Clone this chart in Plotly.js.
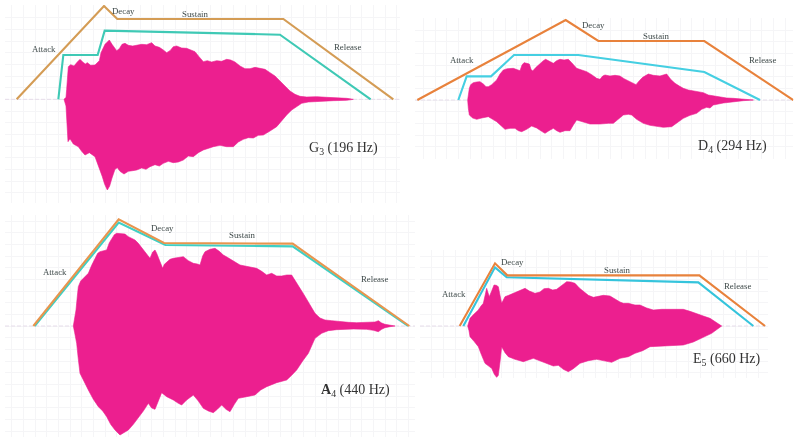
<!DOCTYPE html>
<html><head><meta charset="utf-8">
<script src="https://cdn.plot.ly/plotly-3.0.1.min.js"></script>
<style>html,body{margin:0;padding:0;background:#fff}#c{width:800px;height:443px;filter:blur(0.45px)}</style>
</head><body><div id="c"></div>
<script>
// Time runs along x, amplitude along y (arbitrary units).
const labelNames = ['Attack','Decay','Sustain','Release'];

const g3UpperT = [192,198,200,203,205,212,222,232,240,248,256,262,272,285,293,298,303,309,315,322,328,336,343,350,358,366,375,385,398,410,425,440,455,465,478,490,500,510,520,530,545,560,572,585,597,610,622,635,650,665,680,692,705,720,735,750,765,780,795,810,825,840,855,870,885,900,920,950,980,1010,1040,1060];
const g3Upper  = [0,6,30,70,98,104,100,112,120,112,106,110,102,103,112,116,140,152,165,172,178,165,155,146,152,165,168,162,160,163,165,164,170,160,156,148,140,146,158,160,154,153,148,143,128,113,116,112,116,114,120,118,112,100,92,92,96,92,90,80,70,55,40,25,15,9,7,8,6,5,3,0];
const g3LowerT = [192,198,201,204,210,220,235,245,255,268,285,293,300,307,314,322,329,336,345,352,360,372,385,398,410,425,438,450,465,478,490,505,520,535,550,565,580,595,610,625,640,660,680,700,715,730,745,760,775,790,810,830,845,860,875,890,905,925,960,1000,1040,1060];
const g3Lower  = [0,-20,-70,-127,-118,-134,-142,-156,-167,-160,-172,-190,-212,-232,-255,-272,-260,-236,-210,-205,-216,-224,-216,-214,-212,-206,-210,-202,-196,-200,-192,-186,-190,-188,-182,-170,-172,-160,-152,-146,-142,-138,-142,-142,-128,-120,-115,-116,-108,-107,-95,-82,-65,-47,-32,-22,-12,-8,-6,-4,-3,0];
const g3IdealT = [50,312,352,850,1180];
const g3Ideal  = [0,280,241,241,0];
const g3FitT   = [175,190,293,314,840,1112];
const g3Fit    = [0,133,133,206,194,0];
const g3LabelT = [132,370,585,1042];
const g3LabelA = [151,265,255,157];

const d4UpperT = [203,205,208,212,220,230,240,250,258,265,275,290,300,310,322,340,352,360,366,372,380,388,393,398,408,420,430,437,447,460,470,480,492,505,515,530,545,560,575,590,600,608,615,630,645,660,672,685,697,708,718,728,745,760,780,790,800,812,825,838,850,865,880,895,910,925,940,960,980,1000,1030,1060];
const d4Upper  = [0,20,35,46,52,54,55,48,40,40,46,60,78,90,94,95,90,88,105,112,110,108,92,87,98,110,118,122,116,110,118,122,120,122,112,95,90,85,76,65,62,72,75,72,74,72,64,58,50,46,58,68,78,74,72,76,78,62,50,42,35,30,28,25,22,15,12,8,6,5,2,0];
const d4LowerT = [203,205,208,218,230,245,265,278,290,303,315,330,345,355,365,380,395,410,425,435,447,460,470,480,495,510,520,530,545,570,600,625,640,655,670,685,695,710,730,750,770,790,815,830,850,870,890,905,920,930,940,970,1000,1030,1060];
const d4Lower  = [0,-25,-45,-54,-58,-54,-50,-58,-65,-78,-88,-85,-85,-92,-95,-88,-78,-84,-94,-100,-92,-85,-92,-97,-92,-92,-75,-60,-65,-72,-72,-70,-70,-58,-45,-43,-45,-58,-70,-76,-80,-82,-80,-68,-55,-46,-40,-28,-22,-24,-15,-9,-5,-2,0];
const d4IdealT = [52,497,595,913,1180];
const d4Ideal  = [0,240,177,177,0];
const d4FitT   = [175,200,273,342,535,913,1080];
const d4Fit    = [0,71,71,135,135,84,0];
const d4LabelT = [186,580,770,1088];
const d4LabelA = [120,226,192,119];

const a4UpperT = [220,224,228,232,235,242,250,258,265,275,285,293,300,310,320,328,335,343,350,362,375,385,395,405,415,425,435,443,450,458,465,470,478,488,493,500,510,520,535,550,565,580,592,600,608,615,630,645,658,670,682,695,708,720,735,755,770,785,800,815,830,845,860,875,888,900,912,925,935,945,960,975,995,1020,1045,1070,1090,1110,1125,1135,1145,1155,1170,1185];
const a4Upper  = [0,20,48,90,118,135,143,150,158,182,203,218,223,226,228,250,263,274,278,276,276,268,263,258,248,235,223,212,203,222,228,218,200,173,185,192,200,203,206,208,196,188,186,183,210,223,230,233,224,213,206,198,190,183,180,176,173,164,153,158,150,150,153,153,130,113,94,73,55,38,24,18,16,13,11,10,11,11,12,16,9,5,2,0];
const a4LowerT = [220,224,230,235,240,252,265,280,295,308,320,332,345,360,372,385,400,415,430,445,455,465,475,485,500,520,535,545,560,580,595,610,625,640,652,665,678,690,703,715,740,765,782,800,830,860,875,890,908,925,935,945,965,985,1010,1030,1060,1100,1120,1135,1145,1155,1170,1185];
const a4Lower  = [0,-20,-52,-100,-142,-168,-192,-220,-242,-255,-272,-295,-312,-327,-320,-312,-295,-277,-255,-232,-246,-250,-225,-200,-212,-222,-232,-237,-222,-207,-225,-247,-255,-260,-250,-237,-250,-257,-235,-217,-212,-207,-192,-182,-170,-162,-148,-132,-105,-82,-58,-37,-22,-14,-11,-10,-9,-10,-13,-17,-10,-5,-2,0];
const a4IdealT = [100,356,492,878,1228];
const a4Ideal  = [0,320,249,247,0];
const a4FitT   = [104,356,496,878,1224];
const a4Fit    = [0,310,243,239,0];
const a4LabelT = [165,487,728,1124];
const a4LabelA = [161,295,273,141];

const e5UpperT = [143,147,150,160,175,183,190,196,200,204,208,215,222,229,235,240,245,250,255,266,280,295,315,328,345,360,372,385,398,410,425,440,452,465,478,490,505,520,535,550,570,585,600,610,625,645,660,680,700,725,750,770,790,810,830,850,870,888,905];
const e5Upper  = [0,12,23,34,48,60,68,95,113,100,88,105,123,122,118,92,68,78,88,92,98,104,113,105,98,102,112,113,108,110,122,133,132,128,114,103,92,86,88,92,90,80,72,68,68,63,63,54,48,50,50,49,50,44,36,30,23,12,0];
const e5LowerT = [143,147,150,162,175,185,195,205,215,223,230,235,238,241,245,255,265,285,310,325,340,360,380,400,415,430,445,460,480,505,530,555,575,600,625,645,668,690,725,760,790,820,850,875,905];
const e5Lower  = [0,-14,-32,-46,-62,-88,-112,-120,-127,-145,-154,-148,-137,-100,-62,-80,-92,-100,-107,-102,-97,-105,-113,-120,-118,-130,-137,-128,-112,-104,-100,-106,-109,-97,-92,-82,-74,-62,-60,-58,-57,-48,-34,-22,0];
const e5IdealT = [119,225,262,838,1035];
const e5Ideal  = [0,188,152,152,0];
const e5FitT   = [130,225,260,835,1000];
const e5Fit    = [0,176,146,131,0];
const e5LabelT = [102,278,592,953];
const e5LabelA = [96,191,167,121];

const PINK = '#EC1F8F';
const sub = d => '<sub style="font-size:7px">'+d+'</sub>';
const panels = [
 {n:'',  note:'G'+sub('3')+' (196 Hz)', noteT:1030, noteA:-147, ox:0,oy:0,base:298,zx:[15,1200],zy:[15,609], idealC:'#D49C55', fitC:'#3FC9B5',
  uT:g3UpperT,u:g3Upper,lT:g3LowerT,l:g3Lower,iT:g3IdealT,i:g3Ideal,fT:g3FitT,f:g3Fit,lbT:g3LabelT,lbA:g3LabelA},
 {n:'2', note:'D'+sub('4')+' (294 Hz)', noteT:998, noteA:-140, ox:400,oy:0,base:300,zx:[45,1180],zy:[55,478], idealC:'#E8823C', fitC:'#45CFE2',
  uT:d4UpperT,u:d4Upper,lT:d4LowerT,l:d4Lower,iT:d4IdealT,i:d4Ideal,fT:d4FitT,f:d4Fit,lbT:d4LabelT,lbA:d4LabelA},
 {n:'3', note:'<b>A</b>'+sub('4')+' (440 Hz)', noteT:1067, noteA:-192, ox:0,oy:210,base:348,zx:[15,1245],zy:[15,680], idealC:'#E8954E', fitC:'#3FCFC4',
  uT:a4UpperT,u:a4Upper,lT:a4LowerT,l:a4Lower,iT:a4IdealT,i:a4Ideal,fT:a4FitT,f:a4Fit,lbT:a4LabelT,lbA:a4LabelA},
 {n:'4', note:'E'+sub('5')+' (660 Hz)', noteT:918, noteA:-100, ox:420,oy:240,base:258,zx:[0,1045],zy:[30,415], idealC:'#E8823C', fitC:'#35C4DC',
  uT:e5UpperT,u:e5Upper,lT:e5LowerT,l:e5Lower,iT:e5IdealT,i:e5Ideal,fT:e5FitT,f:e5Fit,lbT:e5LabelT,lbA:e5LabelA}
];

const W = 800, H = 443, traces = [], annotations = [];
const layout = {width:W,height:H,margin:{l:0,r:0,t:0,b:0},paper_bgcolor:'#fff',plot_bgcolor:'#fff',showlegend:false,annotations};

panels.forEach(p=>{
  const xa='x'+p.n, ya='y'+p.n;
  const axisCommon = {showticklabels:false,ticks:'',zeroline:false,showline:false,showgrid:true,gridcolor:'#F5F5F7',gridwidth:1,dtick:35,fixedrange:true};
  layout['xaxis'+p.n] = Object.assign({},axisCommon,{
    range:p.zx, anchor:ya,
    domain:[(p.ox+p.zx[0]/3)/W,(p.ox+p.zx[1]/3)/W]});
  layout['yaxis'+p.n] = Object.assign({},axisCommon,{
    range:[p.base-p.zy[1],p.base-p.zy[0]], anchor:xa,
    domain:[1-(p.oy+p.zy[1]/3)/H,1-(p.oy+p.zy[0]/3)/H]});
  // baseline
  traces.push({x:p.zx,y:[0,0],xaxis:xa,yaxis:ya,mode:'lines',line:{color:'#E6DDEA',width:1,dash:'4px,2px'},hoverinfo:'skip'});
  // waveform envelope
  traces.push({x:p.uT.concat(p.lT.slice().reverse()),y:p.u.concat(p.l.slice().reverse()),xaxis:xa,yaxis:ya,
    mode:'lines',fill:'toself',fillcolor:PINK,line:{color:PINK,width:0.6},hoverinfo:'skip'});
  // fitted and ideal ADSR
  traces.push({x:p.fT,y:p.f,xaxis:xa,yaxis:ya,mode:'lines',line:{color:p.fitC,width:2.1},hoverinfo:'skip'});
  traces.push({x:p.iT,y:p.i,xaxis:xa,yaxis:ya,mode:'lines',line:{color:p.idealC,width:2.1},hoverinfo:'skip'});
  labelNames.forEach((t,i)=>annotations.push({text:t,x:p.lbT[i],y:p.lbA[i],xref:xa,yref:ya,showarrow:false,
    xanchor:'center',yanchor:'middle',font:{family:'Liberation Serif',size:8.8,color:'#3F4A4A'}}));
  annotations.push({text:p.note,x:p.noteT,y:p.noteA,xref:xa,yref:ya,showarrow:false,xanchor:'center',yanchor:'middle',
    font:{family:'Liberation Serif',size:14,color:'#333'}});
});

Plotly.newPlot('c',traces,layout,{displayModeBar:false,staticPlot:true});
</script></body></html>
